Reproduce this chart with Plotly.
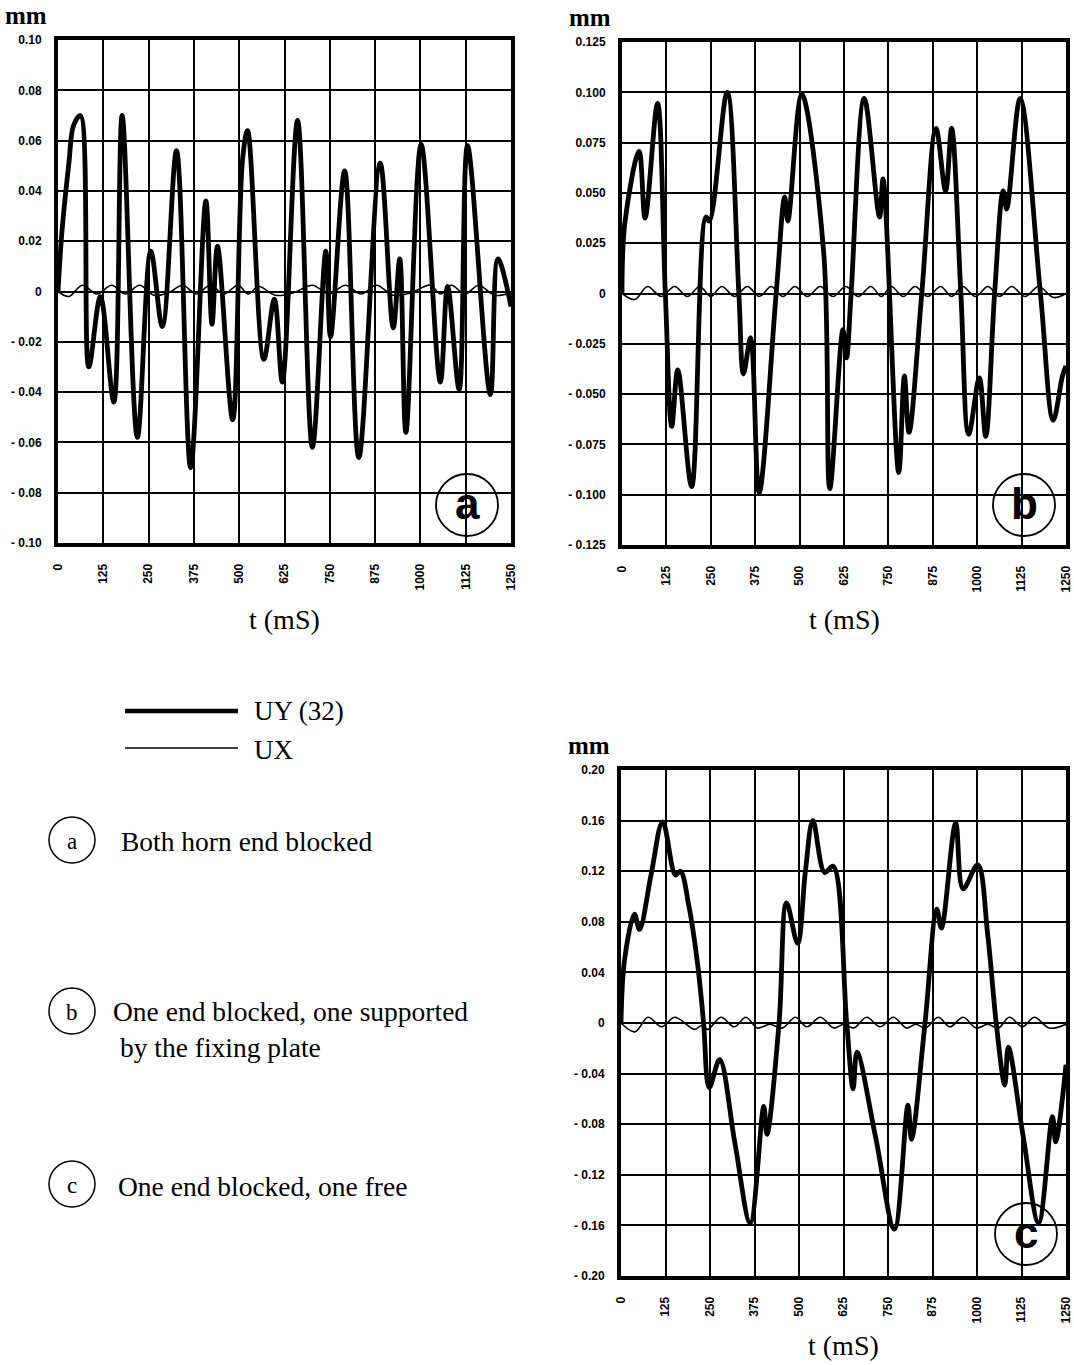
import plotly.graph_objects as go

W, H = 1074, 1365

# ---------------- data ----------------
T_TICKS = [0, 125, 250, 375, 500, 625, 750, 875, 1000, 1125, 1250]
T_LABELS = ["0", "125", "250", "375", "500", "625", "750", "875", "1000", "1125", "1250"]

A_YTICKS = [-0.10, -0.08, -0.06, -0.04, -0.02, 0, 0.02, 0.04, 0.06, 0.08, 0.10]
A_YLABELS = ["- 0.10", "- 0.08", "- 0.06", "- 0.04", "- 0.02", "0", "0.02", "0.04", "0.06", "0.08", "0.10"]
B_YTICKS = [-0.125, -0.100, -0.075, -0.050, -0.025, 0, 0.025, 0.050, 0.075, 0.100, 0.125]
B_YLABELS = ["- 0.125", "- 0.100", "- 0.075", "- 0.050", "- 0.025", "0", "0.025", "0.050", "0.075", "0.100", "0.125"]
C_YTICKS = [-0.20, -0.16, -0.12, -0.08, -0.04, 0, 0.04, 0.08, 0.12, 0.16, 0.20]
C_YLABELS = ["- 0.20", "- 0.16", "- 0.12", "- 0.08", "- 0.04", "0", "0.04", "0.08", "0.12", "0.16", "0.20"]

# (a) Both horn end blocked
A_UY_T = [0, 11, 30, 43, 62, 85, 117, 154, 177, 219, 256, 288, 327, 366, 408, 425, 440, 482,
          509, 523, 568, 597, 619, 661, 702, 739, 752, 791, 830, 889, 925, 943, 960, 1002,
          1055, 1075, 1107, 1130, 1193, 1214, 1250]
A_UY_V = [0.0, 0.024, 0.051, 0.066, 0.070, -0.030, -0.002, -0.044, 0.070, -0.058, 0.016, -0.014,
          0.056, -0.070, 0.036, -0.013, 0.018, -0.051, 0.052, 0.064, -0.027, -0.003, -0.036,
          0.068, -0.062, 0.016, -0.018, 0.048, -0.066, 0.051, -0.0145, 0.013, -0.056, 0.0585,
          -0.036, 0.002, -0.039, 0.058, -0.041, 0.013, -0.006]
A_UX_T = [0, 30, 67, 108, 148, 186, 225, 265, 305, 344, 382, 420, 458, 497, 525, 554, 600, 650,
          702, 748, 793, 836, 879, 925, 975, 1027, 1056, 1085, 1123, 1161, 1205, 1250]
A_UX_V = [0.0, -0.002, 0.0025, -0.001, 0.0025, -0.001, 0.0025, -0.0015, -0.0005, 0.0025, -0.001,
          0.0025, -0.001, 0.0025, -0.001, 0.002, -0.0015, -0.0005, 0.0025, -0.001, 0.0025, -0.001,
          0.0025, -0.0015, -0.0005, 0.0025, -0.001, 0.0025, -0.001, 0.0025, -0.0015, -0.0005]

# (b) One end blocked, one supported by the fixing plate
B_UY_T = [0, 8, 48, 65, 100, 122, 140, 157, 196, 236, 246, 296, 329, 342, 362, 386, 434, 458,
          467, 506, 568, 585, 622, 632, 645, 682, 725, 735, 779, 795, 808, 844, 884, 911, 928,
          954, 976, 1006, 1024, 1049, 1073, 1083, 1121, 1178, 1214, 1240, 1250]
B_UY_V = [0.0, 0.035, 0.0706, 0.0375, 0.0945, 0.0, -0.066, -0.038, -0.096, 0.038, 0.036, 0.100,
          0.0, -0.040, -0.022, -0.099, 0.0, 0.048, 0.036, 0.099, 0.020, -0.097, -0.018, -0.032,
          0.0, 0.097, 0.038, 0.057, -0.089, -0.041, -0.069, 0.0, 0.082, 0.051, 0.082, 0.0,
          -0.070, -0.042, -0.071, 0.0, 0.051, 0.042, 0.097, 0.0, -0.063, -0.041, -0.036]
B_UX_T = [0, 36, 72, 110, 148, 184, 219, 250, 281, 317, 353, 387, 420, 453, 487, 522, 558, 594,
          630, 665, 701, 730, 758, 792, 825, 861, 897, 928, 959, 995, 1030, 1063, 1097, 1135,
          1173, 1215, 1250]
B_UX_V = [0.0, -0.003, 0.0035, -0.0015, 0.0035, -0.0015, 0.0035, -0.0015, 0.0035, -0.0015,
          0.0035, -0.0015, 0.0035, -0.0015, 0.0035, -0.0015, 0.0035, -0.0015, 0.0035, -0.0015,
          0.0035, -0.0015, 0.0035, -0.0015, 0.0035, -0.0015, 0.0035, -0.0015, 0.0035, -0.0015,
          0.0035, -0.0015, 0.0035, -0.0015, 0.0035, -0.002, 0.0]

# (c) One end blocked, one free
C_UY_T = [0, 10, 38, 52, 85, 117, 153, 167, 191, 215, 232, 248, 277, 320, 363, 401, 410, 444,
          465, 496, 518, 539, 572, 596, 634, 652, 663, 715, 768, 806, 816, 854, 887, 900, 940,
          961, 1002, 1030, 1054, 1078, 1088, 1130, 1173, 1212, 1221, 1250]
C_UY_V = [0.0, 0.050, 0.086, 0.074, 0.118, 0.159, 0.117, 0.120, 0.092, 0.047, 0.0, -0.051,
          -0.029, -0.095, -0.158, -0.066, -0.088, 0.0, 0.095, 0.063, 0.120, 0.160, 0.119, 0.124,
          0.0, -0.052, -0.023, -0.090, -0.163, -0.065, -0.092, 0.0, 0.090, 0.075, 0.158, 0.106,
          0.125, 0.070, 0.0, -0.049, -0.019, -0.090, -0.158, -0.074, -0.094, -0.033]
C_UX_T = [0, 39, 76, 114, 151, 207, 226, 244, 281, 318, 351, 383, 418, 453, 490, 522, 560, 598,
          626, 654, 690, 728, 765, 802, 828, 855, 891, 924, 961, 998, 1030, 1060, 1091, 1128,
          1161, 1203, 1250]
C_UX_V = [0.0, -0.007, 0.0045, -0.003, 0.0045, -0.005, -0.002, -0.005, 0.0045, -0.003, 0.0045,
          -0.004, -0.001, -0.004, 0.0045, -0.003, 0.0045, -0.004, -0.001, -0.004, 0.0045, -0.003,
          0.0045, -0.004, -0.001, -0.004, 0.0045, -0.003, 0.0045, -0.004, -0.001, -0.004, 0.0045,
          -0.003, 0.0045, -0.004, -0.001]

PANEL_LETTERS = ["a", "b", "c"]
SERIES_NAMES = ["UY (32)", "UX"]
CASE_TEXTS = ["Both horn end blocked",
              "One end blocked, one supported<br> by the fixing plate",
              "One end blocked, one free"]

# ---------------- layout helpers ----------------
def px(x):
    return x / W

def py(y):
    return 1 - y / H

SERIF = "Liberation Serif"
TICKFONT = dict(family="Liberation Sans", size=12, color="black", weight="bold")

panels = [
    dict(sfx="", box=(58, 511, 40, 543), rng=0.10, yt=A_YTICKS, yl=A_YLABELS,
         uy=(A_UY_T, A_UY_V), ux=(A_UX_T, A_UX_V), circ=(467, 505), title_y=620),
    dict(sfx="2", box=(622, 1066, 42, 545), rng=0.125, yt=B_YTICKS, yl=B_YLABELS,
         uy=(B_UY_T, B_UY_V), ux=(B_UX_T, B_UX_V), circ=(1024, 505), title_y=620),
    dict(sfx="3", box=(621, 1066, 770, 1276), rng=0.20, yt=C_YTICKS, yl=C_YLABELS,
         uy=(C_UY_T, C_UY_V), ux=(C_UX_T, C_UX_V), circ=(1026, 1234), title_y=1345),
]

fig = go.Figure()
shapes = []
annotations = []
layout_axes = {}

for i, p in enumerate(panels):
    sfx = p["sfx"]
    xa, ya = "x" + sfx, "y" + sfx
    fig.add_trace(go.Scatter(x=p["ux"][0], y=p["ux"][1], xaxis=xa, yaxis=ya, mode="lines",
                             line=dict(color="black", width=1.6, shape="spline", smoothing=1.0),
                             name=SERIES_NAMES[1], showlegend=False, hoverinfo="skip"))
    fig.add_trace(go.Scatter(x=p["uy"][0], y=p["uy"][1], xaxis=xa, yaxis=ya, mode="lines",
                             line=dict(color="black", width=4.8, shape="spline", smoothing=1.0),
                             name=SERIES_NAMES[0], showlegend=False, hoverinfo="skip"))
    x0, x1, y0, y1 = p["box"]
    layout_axes["xaxis" + sfx] = dict(
        domain=[px(x0), px(x1)], range=[0, 1250], anchor=ya,
        tickvals=T_TICKS, ticktext=T_LABELS, tickangle=-90, tickfont=TICKFONT,
        ticks="", ticklabelstandoff=12, ticklabeloverflow="allow",
        showgrid=True, gridcolor="black", gridwidth=2,
        showline=True, linecolor="black", linewidth=4, mirror=True,
        zeroline=False, automargin=False, fixedrange=True)
    layout_axes["yaxis" + sfx] = dict(
        domain=[py(y1), py(y0)], range=[-p["rng"], p["rng"]], anchor=xa,
        tickvals=p["yt"], ticktext=p["yl"], tickfont=TICKFONT,
        ticks="", ticklabelstandoff=10, ticklabeloverflow="allow",
        showgrid=True, gridcolor="black", gridwidth=2,
        showline=True, linecolor="black", linewidth=4, mirror=True,
        zeroline=False, automargin=False, fixedrange=True)
    # "mm" unit label
    annotations.append(dict(x=px(x0 - 32), y=py(y0 - 24), xref="paper", yref="paper",
                            text="<b>mm</b>", showarrow=False, xanchor="center", yanchor="middle",
                            font=dict(family=SERIF, size=25, color="black")))
    # x-axis title
    annotations.append(dict(x=px((x0 + x1) / 2), y=py(p["title_y"]), xref="paper", yref="paper",
                            text="t (mS)", showarrow=False, xanchor="center", yanchor="middle",
                            font=dict(family=SERIF, size=28, color="black")))
    # circled panel letter
    cx, cy = p["circ"]
    r = 31
    shapes.append(dict(type="circle", xref="paper", yref="paper",
                       x0=px(cx - r), x1=px(cx + r), y0=py(cy + r), y1=py(cy - r),
                       line=dict(color="black", width=1.8), fillcolor="rgba(0,0,0,0)"))
    annotations.append(dict(x=px(cx), y=py(cy - 2), xref="paper", yref="paper",
                            text="<b>%s</b>" % PANEL_LETTERS[i], showarrow=False,
                            xanchor="center", yanchor="middle",
                            font=dict(family="Liberation Sans", size=44, color="black")))

# ---------------- legend block ----------------
shapes.append(dict(type="line", xref="paper", yref="paper",
                   x0=px(125), x1=px(238), y0=py(711), y1=py(711),
                   line=dict(color="black", width=4.5)))
shapes.append(dict(type="line", xref="paper", yref="paper",
                   x0=px(125), x1=px(238), y0=py(748), y1=py(748),
                   line=dict(color="black", width=1.6)))
annotations.append(dict(x=px(252), y=py(711), xref="paper", yref="paper", text=SERIES_NAMES[0],
                        showarrow=False, xanchor="left", yanchor="middle",
                        font=dict(family=SERIF, size=27, color="black")))
annotations.append(dict(x=px(252), y=py(750), xref="paper", yref="paper", text=SERIES_NAMES[1],
                        showarrow=False, xanchor="left", yanchor="middle",
                        font=dict(family=SERIF, size=27, color="black")))

case_rows = [(72, 840, 119, 841), (72, 1011, 111, 1029), (72, 1184, 116, 1186)]
for i, (ccx, ccy, tx, ty) in enumerate(case_rows):
    rr = 23
    shapes.append(dict(type="circle", xref="paper", yref="paper",
                       x0=px(ccx - rr), x1=px(ccx + rr), y0=py(ccy + rr), y1=py(ccy - rr),
                       line=dict(color="black", width=1.5), fillcolor="rgba(0,0,0,0)"))
    annotations.append(dict(x=px(ccx), y=py(ccy + 1), xref="paper", yref="paper",
                            text=PANEL_LETTERS[i], showarrow=False, xanchor="center",
                            yanchor="middle", font=dict(family=SERIF, size=23, color="black")))
    annotations.append(dict(x=px(tx), y=py(ty), xref="paper", yref="paper", text=CASE_TEXTS[i],
                            showarrow=False, xanchor="left", yanchor="middle", align="left",
                            font=dict(family=SERIF, size=27.5, color="black")))

fig.update_layout(
    template="none",
    width=W, height=H,
    margin=dict(l=0, r=0, t=0, b=0, pad=0),
    paper_bgcolor="white", plot_bgcolor="white",
    showlegend=False,
    shapes=shapes, annotations=annotations,
    **layout_axes,
)

fig.write_html("out.html", config={"displayModeBar": False},
               post_script="document.body.style.margin='0';document.body.style.overflow='hidden';")
